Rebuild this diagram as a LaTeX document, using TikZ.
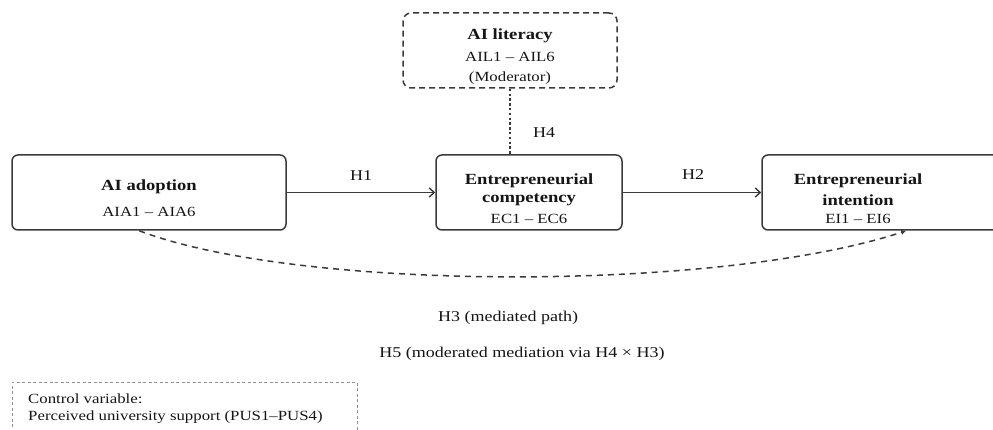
\documentclass[tikz,border=0pt]{standalone}
\usepackage{fontspec}
\setmainfont{Liberation Serif}[FakeStretch=1.2]
\usetikzlibrary{arrows.meta}
\definecolor{bord}{HTML}{3A3A3A}
\definecolor{txt}{HTML}{151515}
\definecolor{ctrlc}{HTML}{909090}
\begin{document}
\begin{tikzpicture}[x=1pt,y=-1pt,
  box/.style={draw=bord, line width=1.5pt, rounded corners=6pt, inner sep=0pt},
  litbox/.style={draw=bord, line width=1.5pt, rounded corners=8pt, dash pattern=on 6pt off 4pt, inner sep=0pt},
  ctrlbox/.style={draw=ctrlc, line width=0.8pt, dash pattern=on 3pt off 2.5pt, inner sep=0pt},
  ttl/.style={text=txt, font=\fontsize{15.5}{18}\selectfont\bfseries, inner sep=0pt},
  sub/.style={text=txt, font=\fontsize{14}{16}\selectfont, inner sep=0pt},
  lbl/.style={text=txt, font=\fontsize{15}{17}\selectfont, inner sep=0pt},
  ctl/.style={text=txt, font=\fontsize{14}{16}\selectfont, inner sep=0pt, anchor=west},
  arr/.style={draw=bord, line width=1.7pt, -{Straight Barb[length=5pt,width=9pt,line width=1.4pt]}},
  dotline/.style={draw=bord, line width=2.4pt, dash pattern=on 2.4pt off 2.4pt},
  dashcurve/.style={draw=bord, line width=1.5pt, dash pattern=on 6pt off 5pt, -{Latex[length=5pt,width=5pt]}}
]
\useasboundingbox (0,0) rectangle (993,430);

% boxes
\node[box, minimum width=274pt, minimum height=75pt] (ado) at (149,192.5) {};
\node[box, minimum width=186pt, minimum height=75pt] (ec) at (529,192.5) {};
\node[box, minimum width=250pt, minimum height=75pt] (ei) at (887,192.5) {};
\node[litbox, minimum width=214pt, minimum height=75pt] (lit) at (510,50.5) {};
\node[ctrlbox, minimum width=345pt, minimum height=60pt] (ctrl) at (184.5,412) {};

% box texts
\node[ttl] (adoT) at (149,187) {AI adoption};
\node[sub] (adoS) at (149,212) {AIA1 – AIA6};

\node[ttl] (ecT1) at (529,181) {Entrepreneurial};
\node[ttl] (ecT2) at (529,200) {competency};
\node[sub] (ecS) at (529,219) {EC1 – EC6};

\node[ttl] (eiT1) at (858,181) {Entrepreneurial};
\node[ttl] (eiT2) at (858,200) {intention};
\node[sub] (eiS) at (858,219) {EI1 – EI6};

\node[ttl] (litT) at (510,36) {AI literacy};
\node[sub] (litS1) at (510,57) {AIL1 – AIL6};
\node[sub] (litS2) at (510,78) {(Moderator)};

\node[ctl] (ctlT1) at (28,399) {Control variable:};
\node[ctl] (ctlT2) at (28,417) {Perceived university support (PUS1–PUS4)};

% connectors
\draw[arr] (ado.east) -- (ec.west);
\draw[arr] (ec.east) -- (ei.west);
\draw[dotline] (lit.south) -- (lit.south |- ec.north);

\path (ado.south west) ++(128,0) coordinate (cs);
\path (ei.south west) ++(145,0) coordinate (ce);
\draw[dashcurve] (cs) .. controls (300,292) and (720,292) .. (ce);

% labels
\node[lbl] (h1) at (361,176) {H1};
\node[lbl] (h2) at (693,175) {H2};
\node[lbl] (h4) at (544,133) {H4};
\node[lbl] (h3) at (508,318) {H3 (mediated path)};
\node[lbl] (h5) at (522,354) {H5 (moderated mediation via H4 × H3)};
\end{tikzpicture}
\end{document}
